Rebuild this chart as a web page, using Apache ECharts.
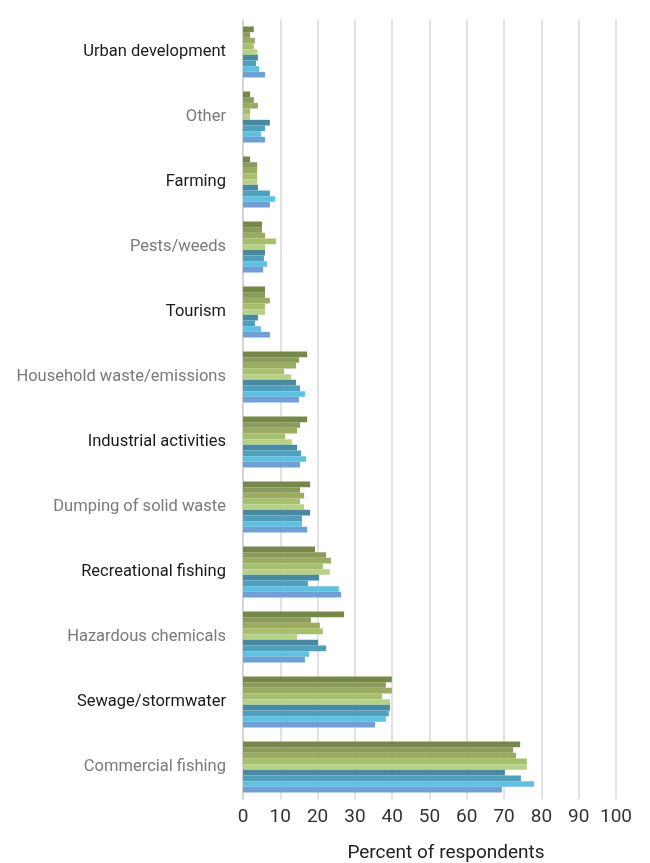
<!DOCTYPE html>
<html>
<head>
<meta charset="utf-8">
<style>
  html, body { margin: 0; padding: 0; background: #ffffff; }
  #chart { width: 650px; height: 863px; }
</style>
<script src="https://cdn.jsdelivr.net/npm/echarts@6/dist/echarts.min.js"></script>
</head>
<body>
<div id="chart"></div>
<script>
// Threat categories, listed top to bottom
const categories = [
  'Urban development', 'Other', 'Farming', 'Pests/weeds', 'Tourism',
  'Household waste/emissions', 'Industrial activities', 'Dumping of solid waste',
  'Recreational fishing', 'Hazardous chemicals', 'Sewage/stormwater', 'Commercial fishing'
];

// Label colour alternates dark / grey down the axis
const labelDark = [true, false, true, false, true, false, true, false, true, false, true, false];

// Percent of respondents, one array per respondent group (bar order within each category)
const group1 = [2.9, 1.9, 1.9, 5.1, 5.9, 17.2, 17.2, 18.0, 19.3, 27.1, 39.9, 74.3];
const group2 = [1.9, 2.9, 3.8, 5.1, 5.9, 15.0, 15.3, 15.3, 22.3, 18.2, 38.3, 72.4];
const group3 = [3.2, 4.0, 3.8, 5.9, 7.2, 14.2, 14.5, 16.4, 23.6, 20.6, 39.9, 73.2];
const group4 = [2.9, 1.9, 3.8, 8.8, 5.9, 11.0, 11.3, 15.3, 21.4, 21.4, 37.3, 76.1];
const group5 = [3.8, 1.9, 3.8, 5.9, 5.9, 12.9, 13.1, 16.4, 23.3, 14.5, 39.4, 76.1];
const group6 = [4.0, 7.2, 4.0, 5.9, 4.0, 14.2, 14.5, 18.0, 20.4, 20.1, 39.4, 70.2];
const group7 = [3.5, 5.9, 7.2, 5.6, 3.2, 15.3, 15.6, 15.8, 17.4, 22.3, 39.1, 74.5];
const group8 = [4.3, 4.8, 8.6, 6.4, 4.8, 16.6, 16.9, 15.8, 25.7, 17.7, 38.3, 78.0];
const group9 = [5.9, 5.9, 7.2, 5.4, 7.2, 15.0, 15.3, 17.2, 26.3, 16.6, 35.4, 69.4];

const groups = [group1, group2, group3, group4, group5, group6, group7, group8, group9];
const colors = ['#76874a', '#8a9a5a', '#9bab5f', '#a6bf6c', '#b8d189',
                '#478aa2', '#4f9fbd', '#5ec1e2', '#6f9fd5'];

// Axis ticks
const xMin = 0, xMax = 100, xStep = 10;

const FONT = 'Roboto';

const chart = echarts.init(document.getElementById('chart'), null, { renderer: 'canvas' });

const labelRich = {
  dark: { color: '#1a1a1a', fontSize: 16.5, fontFamily: FONT },
  grey: { color: '#7a7a7a', fontSize: 16.5, fontFamily: FONT }
};

chart.setOption({
  animation: false,
  backgroundColor: '#ffffff',
  grid: {
    left: 243, right: 34, top: 19.5, bottom: 63.5,
    containLabel: false, outerBoundsMode: 'none'
  },
  xAxis: {
    type: 'value',
    min: xMin, max: xMax, interval: xStep,
    axisLine: { show: false },
    axisTick: { show: false },
    splitLine: { show: true, lineStyle: { color: '#d9d9d9', width: 1.5 } },
    axisLabel: {
      color: '#333', fontSize: 19, margin: 8,
      fontFamily: FONT
    },
    name: 'Percent of respondents',
    nameLocation: 'middle',
    nameGap: 44,
    nameTextStyle: {
      color: '#222', fontSize: 19, fontFamily: FONT,
      padding: [0, 0, 0, 33]
    }
  },
  yAxis: {
    type: 'category',
    data: categories,
    inverse: true,
    axisLine: { show: true, lineStyle: { color: '#d0d0d0', width: 1.5 } },
    axisTick: { show: false },
    axisLabel: {
      margin: 17,
      formatter: function (v, i) {
        return '{' + (labelDark[i] ? 'dark' : 'grey') + '|' + v + '}';
      },
      rich: labelRich
    }
  },
  series: groups.map(function (g, i) {
    return {
      type: 'bar',
      data: g,
      barGap: '0%',
      barCategoryGap: '21.5%',
      itemStyle: { color: colors[i] }
    };
  })
});
</script>
</body>
</html>
